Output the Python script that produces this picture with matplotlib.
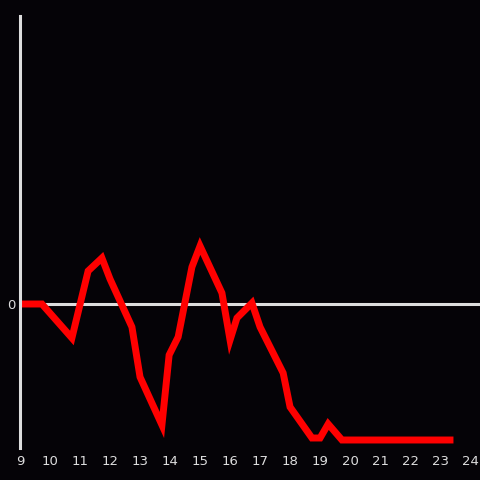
import matplotlib
matplotlib.use("Agg")
import matplotlib.pyplot as plt

# values (x in hours, y in arbitrary units)
hours = [9.0, 9.73, 10.73, 11.27, 11.73, 12.0, 12.73, 13.0, 13.73, 13.97,
         14.27, 14.73, 15.0, 15.73, 16.0, 16.23, 16.73, 17.0, 17.77, 18.0,
         18.73, 19.0, 19.27, 19.73, 23.33]
values = [0.0, 0.0, -3.4, 3.3, 4.6, 2.5, -2.3, -7.3, -12.1, -5.1,
          -3.3, 3.7, 5.8, 1.1, -3.6, -1.4, 0.1, -2.3, -6.9, -10.3,
          -13.4, -13.4, -12.0, -13.6, -13.6]
xticks = list(range(9, 25))

bg = "#050307"
fg = "#dddddd"

fig = plt.figure(figsize=(4.8, 4.8), dpi=100, facecolor=bg)
ax = fig.add_axes([20/480, 32/480, 460/480, 432/480], facecolor=bg)

ax.axhline(0, color=fg, lw=2.2, zorder=1)
ax.plot(hours, values, color="#ff0000", lw=5, solid_joinstyle="miter", zorder=2)

ax.set_xlim(9, 24.33)
ax.set_ylim(-14.4, 28.8)

for s in ["top", "right", "bottom"]:
    ax.spines[s].set_visible(False)
ax.spines["left"].set_color(fg)
ax.spines["left"].set_linewidth(2.2)

ax.set_xticks(xticks)
ax.set_xticklabels([str(t) for t in xticks])
ax.set_yticks([0])
ax.set_yticklabels(["0"])
ax.tick_params(length=0, colors=fg, labelsize=9.5)
ax.tick_params(axis="x", pad=5)
ax.tick_params(axis="y", pad=3)

fig.savefig("out.png", dpi=100, facecolor=bg)
